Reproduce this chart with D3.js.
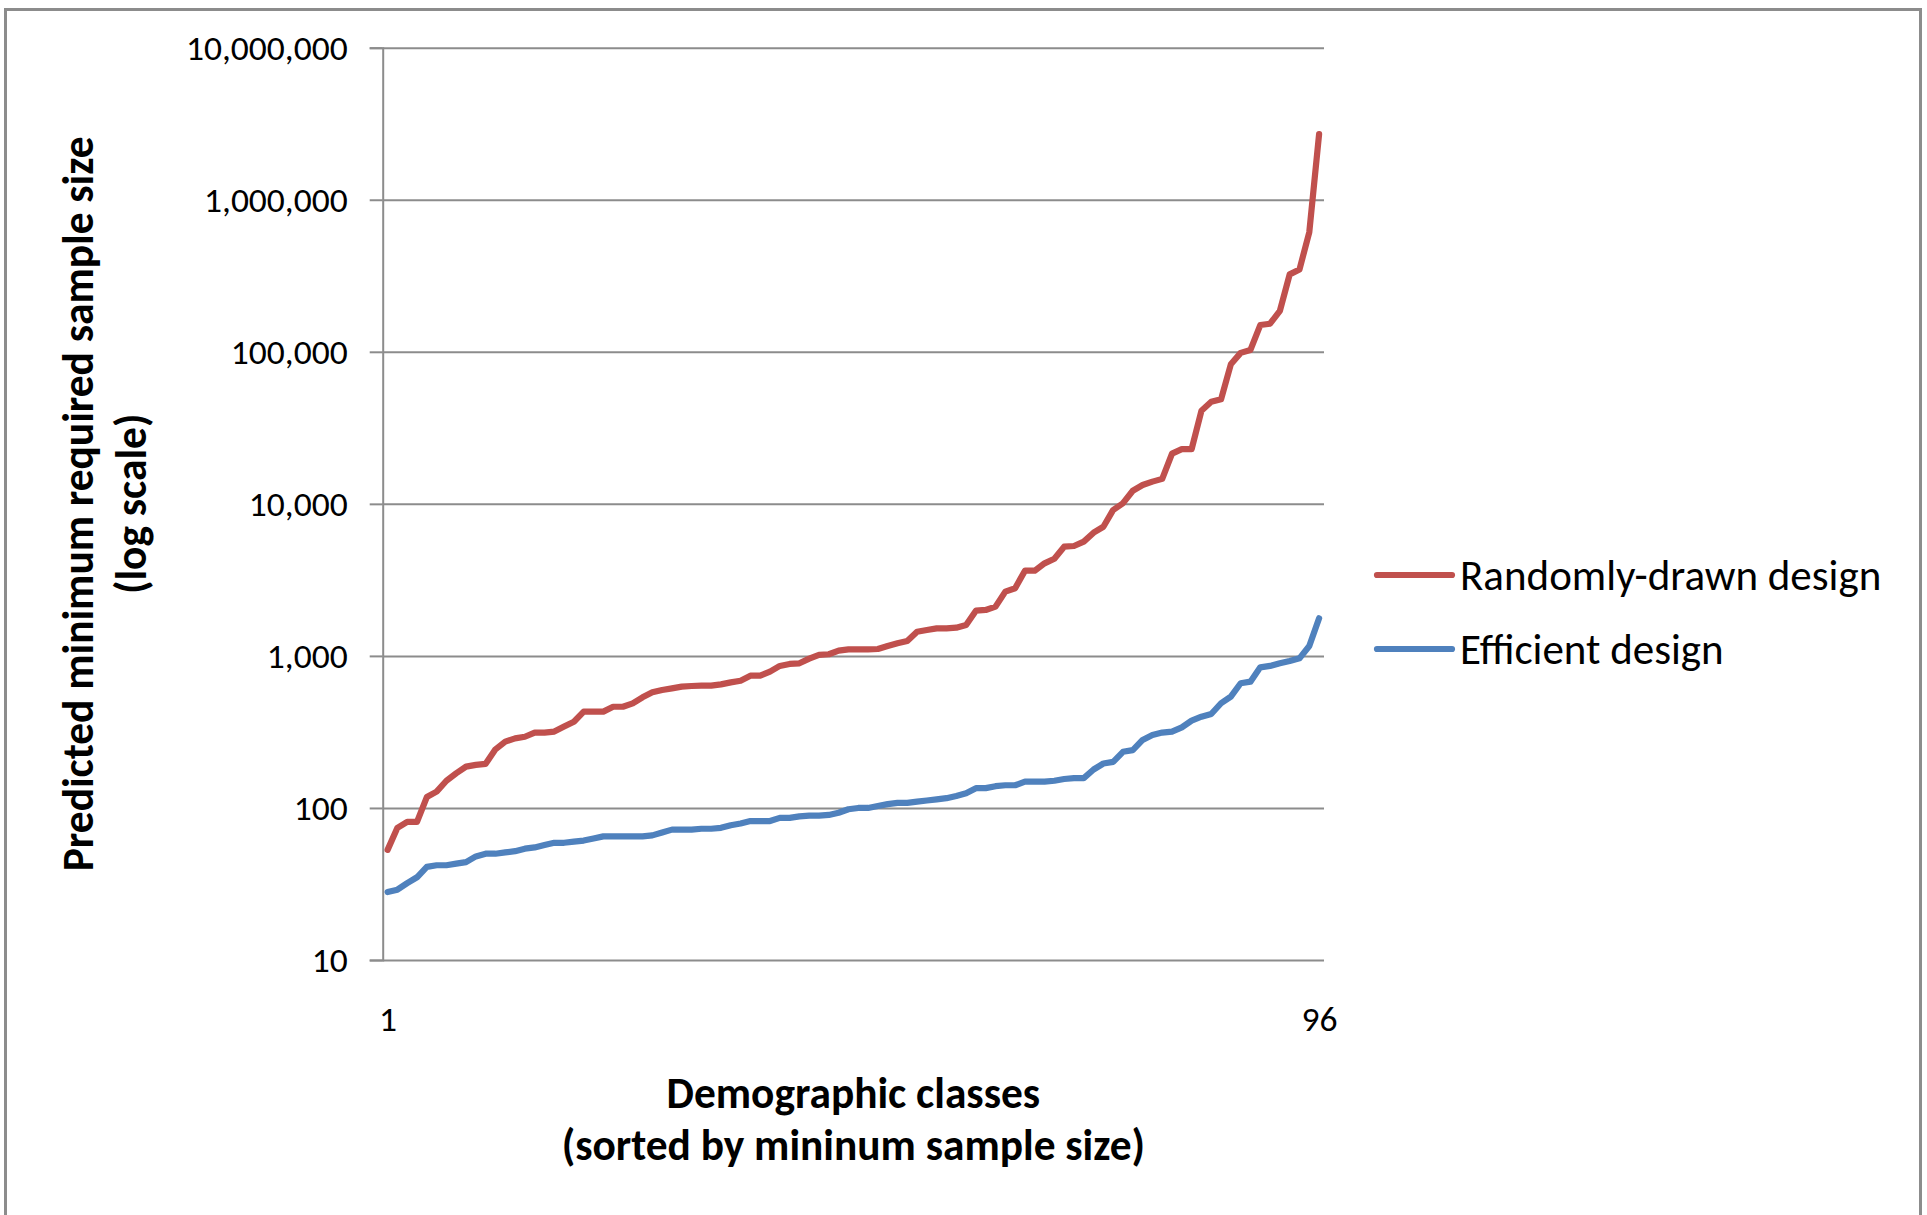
<!DOCTYPE html>
<html>
<head>
<meta charset="utf-8">
<script src="https://cdnjs.cloudflare.com/ajax/libs/d3/7.8.5/d3.min.js"></script>
<style>
  body { margin: 0; background: #fff; }
  text { font-family: Calibri, Carlito, Lato, sans-serif; fill: #000; }
</style>
</head>
<body>
<div id="chart"></div>
<script>
// demographic classes, sorted by minimum sample size
var classes = d3.range(1, 97);

// predicted minimum required sample size
var randomDesign = [
  53, 74, 81, 81, 118, 128, 151, 169, 187, 192,
  195, 243, 273, 287, 294, 313, 313, 318, 343, 369,
  430, 430, 430, 463, 463, 487, 534, 576, 597, 612,
  628, 634, 637, 637, 650, 670, 687, 741, 741, 788,
  859, 885, 894, 959, 1015, 1025, 1083, 1105, 1105, 1105,
  1110, 1161, 1210, 1253, 1443, 1480, 1518, 1518, 1533, 1597,
  1983, 2005, 2110, 2645, 2785, 3634, 3634, 4061, 4357, 5225,
  5284, 5641, 6461, 7070, 9120, 10100, 12200, 13300, 14000, 14600,
  21400, 22900, 22900, 41000, 46900, 48700, 82800, 98400, 102800, 150000,
  153000, 186000, 323000, 348000, 612000, 2700000
];
var efficientDesign = [
  28, 29, 32, 35, 41, 42, 42, 43, 44, 48,
  50, 50, 51, 52, 54, 55, 57, 59, 59, 60,
  61, 63, 65, 65, 65, 65, 65, 66, 69, 72,
  72, 72, 73, 73, 74, 77, 79, 82, 82, 82,
  86, 86, 88, 89, 89, 90, 93, 98, 100, 100,
  103, 106, 108, 108, 110, 112, 114, 116, 120, 125,
  135, 135, 139, 141, 141, 149, 149, 149, 151, 155,
  157, 157, 179, 196, 201, 234, 240, 280, 302, 313,
  318, 339, 375, 398, 415, 488, 540, 661, 677, 841,
  859, 894, 925, 964, 1161, 1767
];

var yTicks = [10, 100, 1000, 10000, 100000, 1000000, 10000000];
var xTicks = [1, 96];
var seriesNames = ["Randomly-drawn design", "Efficient design"];
var seriesColors = ["#C0504D", "#4F81BD"];

var W = 1927, H = 1215;
var margin = { top: 47.7, left: 382.7 };
var width = 941.3, height = 912.3;
var gridColor = "#8c8c8c";

var svg = d3.select("#chart").append("svg")
  .attr("width", W)
  .attr("height", H);

svg.append("rect")
  .attr("width", W).attr("height", H)
  .attr("fill", "#fff");

// outer chart border
svg.append("rect")
  .attr("x", 5.5).attr("y", 9.5)
  .attr("width", 1915).attr("height", 1260)
  .attr("fill", "none")
  .attr("stroke", gridColor)
  .attr("stroke-width", 3);

var g = svg.append("g")
  .attr("transform", "translate(" + margin.left + "," + margin.top + ")");

var x = d3.scalePoint().domain(classes).range([0, width]).padding(0.5);
var y = d3.scaleLog().domain([10, 10000000]).range([height, 0]);

// horizontal gridlines
var grid = g.append("g")
  .call(d3.axisLeft(y).tickValues(yTicks).tickSize(-width).tickFormat(""));
grid.select(".domain").remove();
grid.selectAll("line").attr("stroke", gridColor).attr("stroke-width", 2);

// y axis with labels
var yAxis = g.append("g")
  .call(d3.axisLeft(y).tickValues(yTicks).tickSize(13).tickPadding(22)
    .tickFormat(d3.format(",")));
yAxis.select(".domain").attr("stroke", gridColor).attr("stroke-width", 2);
yAxis.selectAll("line").attr("stroke", gridColor).attr("stroke-width", 2);
yAxis.selectAll("text")
  .style("font-size", "35.5px")
  .attr("fill", "#000");

// x axis: only first and last class labelled
var xAxis = g.append("g")
  .attr("transform", "translate(0," + height + ")")
  .call(d3.axisBottom(x).tickValues(xTicks).tickSize(0).tickPadding(46));
xAxis.select(".domain").remove();
xAxis.selectAll("text")
  .style("font-size", "35.5px")
  .attr("fill", "#000");

var line = d3.line()
  .x(function(d, i) { return x(classes[i]); })
  .y(function(d) { return y(d); });

[randomDesign, efficientDesign].forEach(function(series, k) {
  g.append("path")
    .datum(series)
    .attr("d", line)
    .attr("fill", "none")
    .attr("stroke", seriesColors[k])
    .attr("stroke-width", 6.2)
    .attr("stroke-linejoin", "round")
    .attr("stroke-linecap", "round");
});

// legend
var legend = svg.append("g")
  .attr("transform", "translate(1377,575)");

seriesNames.forEach(function(name, k) {
  var row = legend.append("g")
    .attr("transform", "translate(0," + (k * 74) + ")");
  row.append("line")
    .attr("x1", 0).attr("x2", 75)
    .attr("stroke", seriesColors[k])
    .attr("stroke-width", 6.2)
    .attr("stroke-linecap", "round");
  row.append("text")
    .attr("x", 83)
    .attr("y", 15)
    .style("font-size", "43px")
    .text(name);
});

// y axis title
var yTitle = svg.append("text")
  .attr("transform", "translate(93," + (margin.top + height / 2) + ") rotate(-90)")
  .attr("text-anchor", "middle")
  .style("font-size", "43.4px")
  .style("font-weight", "bold");
yTitle.append("tspan").attr("x", 0).attr("y", 0)
  .text("Predicted minimum required sample size");
yTitle.append("tspan").attr("x", 0).attr("y", 53)
  .text("(log scale)");

// x axis title
var xTitle = svg.append("text")
  .attr("transform", "translate(" + (margin.left + width / 2) + ",1108)")
  .attr("text-anchor", "middle")
  .style("font-size", "43.4px")
  .style("font-weight", "bold");
xTitle.append("tspan").attr("x", 0).attr("y", 0)
  .text("Demographic classes");
xTitle.append("tspan").attr("x", 0).attr("y", 52)
  .text("(sorted by mininum sample size)");
</script>
</body>
</html>
